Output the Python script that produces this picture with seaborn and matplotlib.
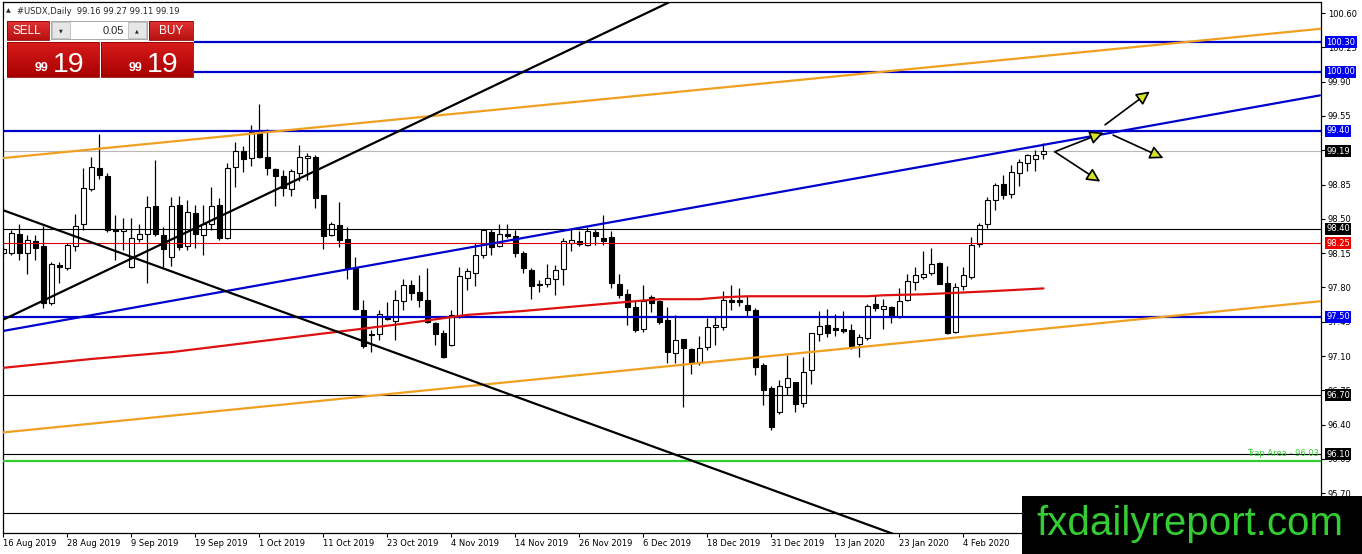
import numpy as np
import pandas as pd
import matplotlib
matplotlib.use("Agg")
import matplotlib.pyplot as plt
import matplotlib.transforms as mtransforms
from matplotlib.patches import Rectangle
import seaborn as sns

# daily OHLC, one row per bar
opens = [98.15, 98.15, 98.35, 98.15, 98.27, 98.22, 97.64, 98.03, 98.00, 98.22,
         98.45, 98.80, 99.02, 98.94, 98.39, 98.38, 98.01, 98.29, 98.35, 98.63,
         98.34, 98.11, 98.64, 98.22, 98.56, 98.34, 98.45, 98.64, 98.30, 99.03,
         99.19, 99.12, 99.38, 99.13, 99.01, 98.94, 98.80, 98.97, 99.12, 99.13,
         98.74, 98.34, 98.44, 98.29, 98.00, 97.57, 97.32, 97.32, 97.51, 97.46,
         97.66, 97.83, 97.75, 97.67, 97.44, 97.33, 97.21, 97.52, 97.90, 97.95,
         98.13, 98.37, 98.22, 98.34, 98.33, 98.15, 97.98, 97.83, 97.84, 97.89,
         97.99, 98.25, 98.27, 98.23, 98.37, 98.30, 98.31, 97.84, 97.73, 97.60,
         97.38, 97.70, 97.66, 97.47, 97.13, 97.27, 97.17, 97.04, 97.19, 97.40,
         97.40, 97.67, 97.67, 97.62, 97.57, 97.01, 96.77, 96.53, 96.78, 96.83,
         96.62, 96.96, 97.32, 97.42, 97.39, 97.38, 97.37, 97.22, 97.28, 97.63,
         97.58, 97.60, 97.50, 97.67, 97.86, 97.91, 97.95, 98.05, 97.85, 97.35,
         97.81, 97.91, 98.24, 98.45, 98.69, 98.86, 98.75, 98.97, 99.07, 99.11,
         99.16]
highs = [98.22, 98.39, 98.45, 98.34, 98.34, 98.43, 98.06, 98.06, 98.25, 98.55,
         99.02, 99.13, 99.37, 98.97, 98.54, 98.51, 98.51, 98.45, 98.73, 99.10,
         98.42, 98.72, 98.73, 98.69, 98.64, 98.64, 98.83, 98.71, 99.07, 99.28,
         99.24, 99.46, 99.67, 99.42, 99.02, 99.00, 99.01, 99.25, 99.17, 99.15,
         98.74, 98.47, 98.67, 98.42, 98.11, 97.67, 97.37, 97.57, 97.65, 97.77,
         97.89, 97.88, 97.93, 98.00, 97.45, 97.37, 97.57, 98.01, 98.00, 98.25,
         98.40, 98.40, 98.45, 98.45, 98.39, 98.17, 98.00, 97.88, 98.04, 98.03,
         98.30, 98.40, 98.38, 98.42, 98.40, 98.54, 98.38, 97.94, 97.78, 97.66,
         97.83, 97.72, 97.67, 97.60, 97.52, 97.27, 97.18, 97.30, 97.49, 97.50,
         97.76, 97.82, 97.79, 97.71, 97.59, 97.03, 96.79, 96.86, 97.11, 96.84,
         97.09, 97.34, 97.56, 97.58, 97.53, 97.56, 97.43, 97.32, 97.63, 97.72,
         97.68, 97.61, 97.79, 97.94, 98.01, 98.17, 98.20, 98.06, 98.02, 97.85,
         98.01, 98.31, 98.46, 98.72, 98.87, 98.95, 99.05, 99.11, 99.16, 99.20,
         99.27]
lows = [98.11, 98.13, 98.08, 97.94, 98.08, 97.59, 97.62, 97.85, 97.98, 98.17,
        98.39, 98.78, 98.91, 98.37, 98.08, 98.18, 98.00, 98.26, 97.85, 98.33,
        98.01, 98.02, 98.18, 98.18, 98.20, 98.13, 98.39, 98.28, 98.29, 98.83,
        98.98, 99.04, 99.12, 98.95, 98.63, 98.73, 98.73, 98.89, 98.90, 98.61,
        98.19, 98.33, 98.21, 97.89, 97.57, 97.18, 97.14, 97.26, 97.47, 97.26,
        97.57, 97.67, 97.60, 97.44, 97.21, 97.08, 97.20, 97.49, 97.77, 97.81,
        98.10, 98.13, 98.21, 98.30, 98.11, 97.95, 97.68, 97.75, 97.80, 97.72,
        97.83, 98.17, 98.22, 98.22, 98.23, 98.23, 97.79, 97.69, 97.42, 97.35,
        97.35, 97.55, 97.43, 97.03, 97.03, 96.58, 96.92, 97.01, 97.16, 97.21,
        97.37, 97.57, 97.61, 97.50, 96.91, 96.60, 96.35, 96.51, 96.70, 96.53,
        96.58, 96.81, 97.25, 97.29, 97.30, 97.33, 97.17, 97.09, 97.26, 97.56,
        97.38, 97.44, 97.49, 97.66, 97.77, 97.89, 97.93, 97.84, 97.32, 97.34,
        97.77, 97.89, 98.21, 98.41, 98.59, 98.70, 98.71, 98.84, 98.99, 98.99,
        99.11]
closes = [98.19, 98.36, 98.15, 98.28, 98.20, 97.64, 98.04, 98.01, 98.23, 98.43,
          98.81, 99.03, 98.95, 98.39, 98.38, 98.40, 98.30, 98.35, 98.62, 98.35,
          98.19, 98.63, 98.21, 98.57, 98.35, 98.45, 98.63, 98.30, 99.02, 99.19,
          99.11, 99.39, 99.13, 99.02, 98.94, 98.81, 98.99, 99.13, 99.14, 98.71,
          98.32, 98.45, 98.28, 98.00, 97.58, 97.20, 97.31, 97.53, 97.48, 97.67,
          97.83, 97.74, 97.67, 97.45, 97.32, 97.09, 97.52, 97.92, 97.97, 98.13,
          98.39, 98.21, 98.35, 98.33, 98.15, 98.00, 97.81, 97.82, 97.90, 97.98,
          98.27, 98.28, 98.24, 98.38, 98.33, 98.27, 97.85, 97.72, 97.60, 97.37,
          97.66, 97.64, 97.45, 97.14, 97.26, 97.18, 97.03, 97.18, 97.40, 97.41,
          97.67, 97.65, 97.65, 97.57, 96.99, 96.75, 96.38, 96.79, 96.88, 96.61,
          96.94, 97.33, 97.41, 97.33, 97.37, 97.36, 97.20, 97.29, 97.61, 97.59,
          97.61, 97.50, 97.66, 97.87, 97.93, 97.94, 98.04, 97.84, 97.34, 97.80,
          97.93, 98.23, 98.44, 98.69, 98.85, 98.74, 98.98, 99.08, 99.15, 99.15,
          99.19]

date_labels = ["16 Aug 2019", "28 Aug 2019", "9 Sep 2019", "19 Sep 2019",
               "1 Oct 2019", "11 Oct 2019", "23 Oct 2019", "4 Nov 2019",
               "14 Nov 2019", "26 Nov 2019", "6 Dec 2019", "18 Dec 2019",
               "31 Dec 2019", "13 Jan 2020", "23 Jan 2020", "4 Feb 2020"]
bars_per_label = 8

# red moving average, sampled at these bars
ma_bars = [0, 11, 21, 30, 42, 50, 58, 65, 72, 79, 82, 87, 90, 93, 108, 110, 115, 123, 130]
ma_vals = [96.98, 97.07, 97.14, 97.23, 97.35, 97.43, 97.52, 97.56, 97.61, 97.66,
           97.68, 97.68, 97.70, 97.71, 97.71, 97.72, 97.73, 97.76, 97.79]

price_ticks = [100.60, 100.25, 99.90, 99.55, 99.20, 98.85, 98.50, 98.15,
               97.80, 97.45, 97.10, 96.75, 96.40, 96.05, 95.70]

blue_levels = [100.30, 100.00, 99.40, 97.50]
black_levels = [98.40, 96.70, 96.10, 95.50]
red_level = 98.25
bid_level = 99.19
trap_level = 96.03

tag_prices = [100.30, 100.00, 99.40, 99.19, 98.40, 98.25, 97.50, 96.70, 96.10]
tag_colors = ["#0000ee", "#0000ee", "#0000ee", "black", "black", "#ee0000",
              "#0000ee", "black", "black"]

# trend lines: (bar0, bar1), (price0, price1)
orange_upper = ([-0.06, 164.7], [99.12, 100.44])
orange_lower = ([-0.06, 164.7], [96.32, 97.66])
blue_channel = ([-0.44, 164.56], [97.35, 99.76])
black_rise = ([-0.06, 87.06], [97.47, 100.86])
black_fall = ([-0.44, 112.06], [98.60, 95.26])

# projection arrows: start bar, start price, end bar, end price
arrows = [(131.4, 99.185, 137.5, 99.38),
          (131.4, 99.185, 137.1, 98.88),
          (137.7, 99.46, 143.3, 99.80),
          (138.7, 99.355, 145.0, 99.12)]

sns.set_style("white")
plt.rcParams["font.family"] = ["DejaVu Sans"]

W, H = 1362, 554
fig = plt.figure(figsize=(W / 100, H / 100), dpi=100)
ax = fig.add_axes([3 / W, 21 / H, 1318 / W, 531 / H])
ax.set_xlim(-0.06, 164.69)
ax.set_ylim(95.294, 100.713)

df = pd.DataFrame({"open": opens, "high": highs, "low": lows, "close": closes})
df["bar"] = np.arange(len(df))
up = df["close"] >= df["open"]
body_lo = np.minimum(df["open"], df["close"])
body_h = np.maximum((df["close"] - df["open"]).abs(), 0.012)

ax.vlines(df["bar"], df["low"], df["high"], color="black", lw=0.9, zorder=2)
ax.bar(df["bar"][up], body_h[up], bottom=body_lo[up], width=0.62,
       color="white", edgecolor="black", linewidth=0.8, zorder=2.5)
ax.bar(df["bar"][~up], body_h[~up], bottom=body_lo[~up], width=0.62,
       color="black", edgecolor="black", linewidth=0.8, zorder=2.5)

# horizontal levels
for p in blue_levels:
    ax.axhline(p, color="#0000cc", lw=1.6, zorder=3)
for p in black_levels:
    ax.axhline(p, color="black", lw=0.8, zorder=3)
ax.axhline(red_level, color="#dd0000", lw=0.8, zorder=3)
ax.axhline(bid_level, color="#b8b8b8", lw=0.8, zorder=1.5)
ax.axhline(trap_level, color="#33cc33", lw=1.6, zorder=3)
ax.text(164.4, trap_level + 0.03, "Trap Area - 96.03", color="#33cc33",
        fontsize=6, ha="right", va="bottom", zorder=3)

# trend lines
for (xs, ys), col in [(orange_upper, "#f0a020"), (orange_lower, "#f0a020"),
                      (blue_channel, "#0000cc"), (black_rise, "black"),
                      (black_fall, "black")]:
    sns.lineplot(x=xs, y=ys, ax=ax, color=col, lw=1.6, zorder=3.2,
                 legend=False, estimator=None, sort=False)

sns.lineplot(x=ma_bars, y=ma_vals, ax=ax, color="#dd1111", lw=1.6, zorder=3.1,
             legend=False, estimator=None)

for x0, y0, x1, y1 in arrows:
    ax.annotate("", xy=(x1, y1), xytext=(x0, y0),
                arrowprops=dict(arrowstyle="-|>,head_length=0.9,head_width=0.45",
                                fc="#d2e22a", ec="black", lw=1.2,
                                mutation_scale=9, shrinkA=0, shrinkB=0),
                zorder=4)

# axes, ticks
for s in ax.spines.values():
    s.set_color("black")
    s.set_linewidth(0.9)
ax.set_xticks(np.arange(len(date_labels)) * bars_per_label)
ax.set_xticklabels(date_labels)
for lab in ax.get_xticklabels():
    lab.set_ha("left")
ax.yaxis.tick_right()
ax.set_yticks(price_ticks)
ax.set_yticklabels([f"{p:.2f}" for p in price_ticks])
ax.tick_params(axis="x", direction="out", length=3, width=0.8, pad=1.5,
               labelsize=6, colors="black", bottom=True)
ax.tick_params(axis="y", direction="out", length=3, width=0.8, pad=2,
               labelsize=6, colors="black", right=True, left=False)
ax.set_xlabel("")
ax.set_ylabel("")
ax.grid(False)

trans = mtransforms.blended_transform_factory(ax.transAxes, ax.transData)
for p, c in zip(tag_prices, tag_colors):
    ax.text(1.0038, p, f"{p:.2f}", transform=trans, ha="left", va="center",
            fontsize=6, color="white", clip_on=False, zorder=6,
            bbox=dict(boxstyle="square,pad=0.18", fc=c, ec="none"))

# overlay in pixel coordinates for the trade panel and watermark
ov = fig.add_axes([0, 0, 1, 1])
ov.set_zorder(10)
ov.patch.set_alpha(0)
ov.axis("off")


def red_box(x, y, w, h, top, bottom):
    grad = np.linspace(0, 1, 50).reshape(-1, 1)
    cmap = matplotlib.colors.LinearSegmentedColormap.from_list("r", [top, bottom])
    ov.imshow(grad, extent=(x, x + w, y + h, y), cmap=cmap, aspect="auto",
              interpolation="bilinear", zorder=1)
    ov.add_patch(Rectangle((x, y), w, h, fill=False, ec="#8a0000", lw=0.6, zorder=2))


ov.add_patch(Rectangle((4, 19), 190, 59, fc="white", ec="none", zorder=0.5))
red_box(7, 21, 42, 19, "#e23434", "#b81010")
red_box(149, 21, 44, 19, "#e23434", "#b81010")
red_box(7, 42, 92, 35, "#d81c1c", "#a80000")
red_box(101, 42, 92, 35, "#d81c1c", "#a80000")
ov.add_patch(Rectangle((51, 21), 96, 18, fc="white", ec="#9a9a9a", lw=0.6, zorder=2))
ov.add_patch(Rectangle((52, 22), 18, 16, fc="#e6e6e6", ec="#b0b0b0", lw=0.5, zorder=3))
ov.add_patch(Rectangle((128, 22), 18, 16, fc="#e6e6e6", ec="#b0b0b0", lw=0.5, zorder=3))
ov.text(61, 30.5, "▼", fontsize=3.5, ha="center", va="center", zorder=4)
ov.text(137, 30.5, "▲", fontsize=3.5, ha="center", va="center", zorder=4)
ov.text(124, 30.5, "0.05", fontsize=8, ha="right", va="center", zorder=4,
        family="Liberation Sans")
ov.text(27, 31, "SELL", fontsize=8.5, color="white", ha="center", va="center",
        zorder=4, family="Liberation Sans")
ov.text(171, 31, "BUY", fontsize=8.5, color="white", ha="center", va="center",
        zorder=4, family="Liberation Sans")
for x_small, x_big in [(35, 53), (129, 147)]:
    ov.text(x_small, 71, "99", fontsize=9, color="white", ha="left",
            va="baseline", zorder=4, family="Liberation Sans", weight="bold")
    ov.text(x_big, 71.5, "19", fontsize=20.5, color="white", ha="left",
            va="baseline", zorder=4, family="Liberation Sans")
ov.text(6, 11, "▲", fontsize=4.5, ha="left", va="center", zorder=4)
ov.text(17, 11, "#USDX,Daily  99.16 99.27 99.11 99.19", fontsize=6,
        ha="left", va="center", zorder=4)

ov.add_patch(Rectangle((1022, 496), 340, 58, fc="black", ec="none", zorder=5))
ov.text(1036, 535, "fxdailyreport.com", fontsize=29, color="#33cc33",
        ha="left", va="baseline", zorder=6, family="Liberation Sans")

ov.set_xlim(0, W)
ov.set_ylim(H, 0)

fig.savefig("out.png", dpi=100)
